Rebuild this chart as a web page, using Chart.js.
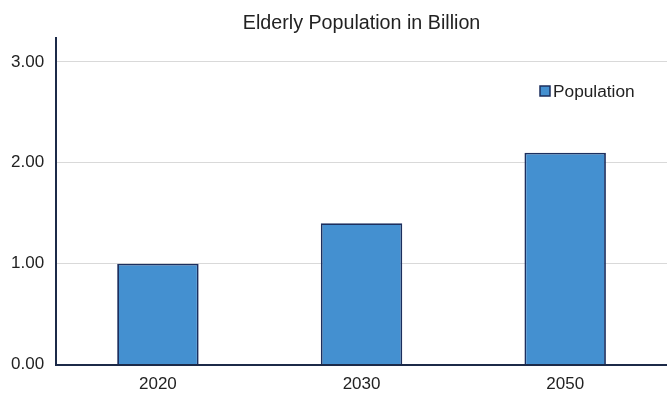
<!DOCTYPE html>
<html>
<head>
<meta charset="utf-8">
<script src="https://cdn.jsdelivr.net/npm/chart.js@4/dist/chart.umd.min.js"></script>
<style>
html,body{margin:0;padding:0;background:#fff;}
#wrap{width:667px;height:395px;}
</style>
</head>
<body>
<div id="wrap"><canvas id="c" width="667" height="395"></canvas></div>
<script>
const categories = ["2020", "2030", "2050"];
const population = [1.00, 1.40, 2.10];
const yTicks = [0, 1, 2, 3];
const titleText = "Elderly Population in Billion";
const seriesName = "Population";

Chart.defaults.font.family = "'Liberation Sans', Arial, sans-serif";
Chart.defaults.color = "#222";

const FILL = "#4490d0";
const EDGE = "#1c2f5e";

// Legend drawn inside the plot area (top-right), like the reference
const insideLegend = {
  id: "insideLegend",
  afterDraw(chart) {
    const ctx = chart.ctx;
    const ds = chart.data.datasets[0];
    const x = 540, y = 91;
    ctx.save();
    ctx.fillStyle = FILL;
    ctx.strokeStyle = EDGE;
    ctx.lineWidth = 1.5;
    ctx.fillRect(x, y - 5, 10, 10);
    ctx.strokeRect(x, y - 5, 10, 10);
    ctx.fillStyle = "#222";
    ctx.font = "17.3px 'Liberation Sans', Arial, sans-serif";
    ctx.textBaseline = "middle";
    ctx.textAlign = "left";
    ctx.fillText(ds.label, x + 13, y + 1);
    ctx.restore();
  }
};

new Chart(document.getElementById("c"), {
  type: "bar",
  data: {
    labels: categories,
    datasets: [{
      label: seriesName,
      data: population,
      backgroundColor: FILL,
      borderColor: EDGE,
      borderWidth: 1.8,
      categoryPercentage: 1.0,
      barPercentage: 0.4
    }]
  },
  plugins: [insideLegend],
  options: {
    responsive: false,
    animation: false,
    layout: { padding: { left: -1, right: 0, top: 12, bottom: -10 } },
    plugins: {
      title: {
        display: true,
        text: titleText,
        fullSize: false,
        font: { size: 19.7, weight: "normal" },
        color: "#222",
        padding: { top: 0, bottom: 2 }
      },
      legend: { display: false },
      tooltip: { enabled: false }
    },
    scales: {
      x: {
        grid: { display: false, drawTicks: false },
        border: { display: true, color: "#1c2a48", width: 2 },
        ticks: { font: { size: 17 }, color: "#222", padding: 10 }
      },
      y: {
        min: 0,
        max: 3.24,
        afterBuildTicks: (axis) => { axis.ticks = yTicks.map(v => ({ value: v })); },
        grid: { color: "#d9d9d9", lineWidth: 1, drawTicks: false },
        border: { display: true, color: "#1c2a48", width: 2 },
        ticks: {
          font: { size: 17 },
          color: "#222",
          padding: 12,
          callback: (v) => Number(v).toFixed(2)
        }
      }
    }
  }
});
</script>
</body>
</html>
